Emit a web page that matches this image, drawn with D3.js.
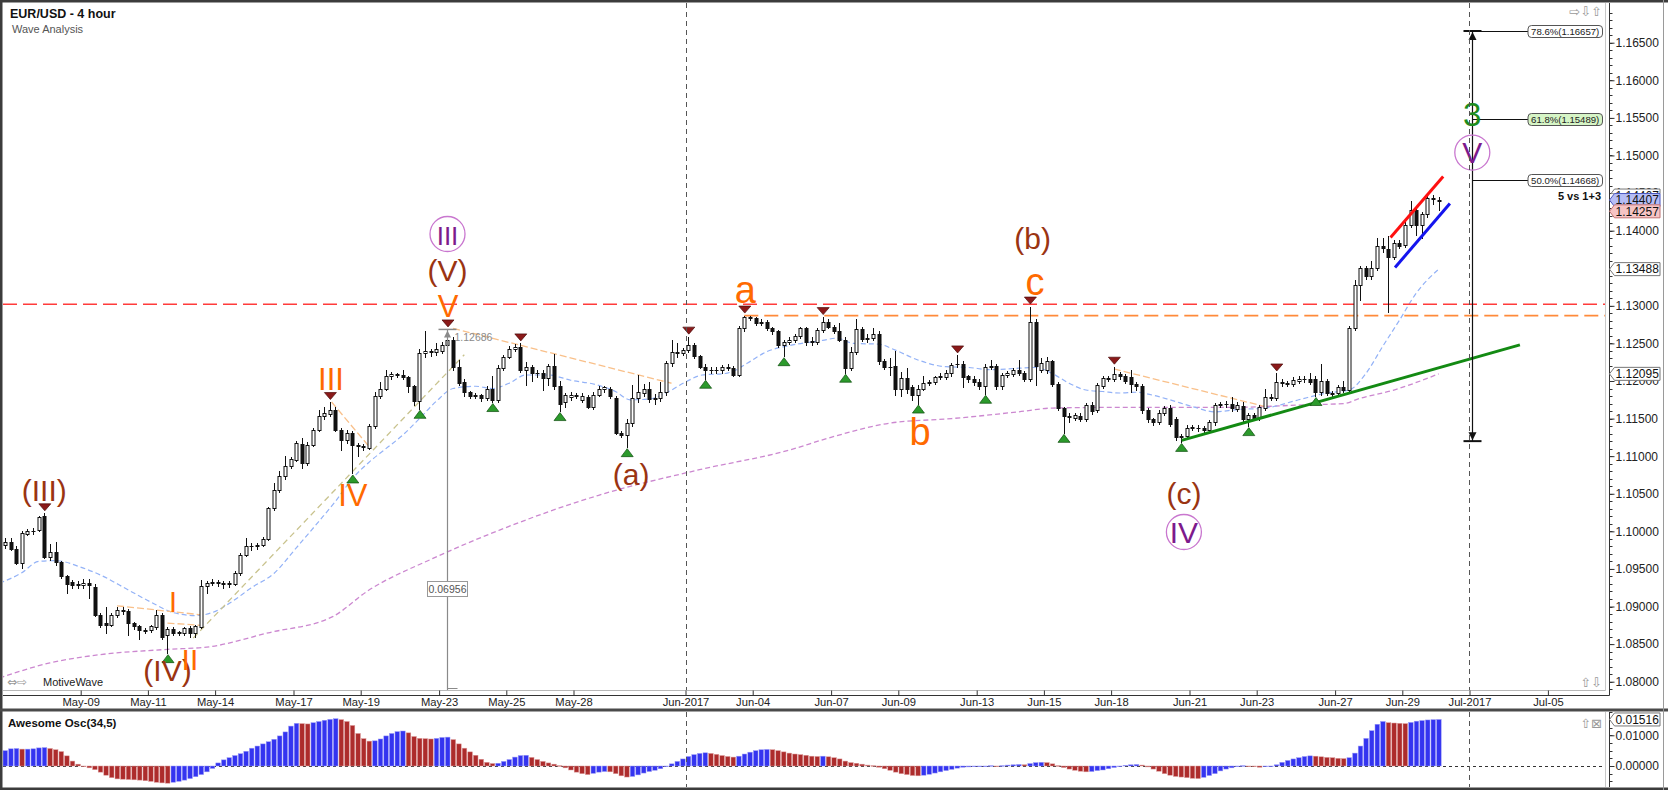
<!DOCTYPE html>
<html><head><meta charset="utf-8">
<script src="https://cdn.jsdelivr.net/npm/d3@7/dist/d3.min.js"></script>
<style>
html,body{margin:0;padding:0;background:#fff;}
svg{display:block;font-family:"Liberation Sans",Arial,sans-serif;}
</style></head><body>
<svg id="chart" width="1668" height="790"></svg>
<script>
// ---------------- DATA ----------------
const title = "EUR/USD - 4 hour";
const subtitle = "Wave Analysis";
// 4-hour candles [open, high, low, close], bar index 0..256
const ohlc = [
[1.0982,1.0991,1.0978,1.0986],[1.0986,1.0991,1.0975,1.0976],[1.0977,1.0980,1.0956,1.0958],[1.0958,1.1000,1.0951,1.0998],[1.0997,1.1003,1.0995,1.1000],
[1.1000,1.1005,1.0997,1.1001],[1.1002,1.1021,1.1000,1.1019],[1.1020,1.1024,1.0964,1.0966],[1.0966,1.0983,1.0962,1.0972],[1.0972,1.0986,1.0955,1.0959],
[1.0959,1.0961,1.0938,1.0940],[1.0940,1.0942,1.0918,1.0930],[1.0932,1.0935,1.0925,1.0929],[1.0930,1.0934,1.0925,1.0929],[1.0929,1.0936,1.0924,1.0931],
[1.0931,1.0936,1.0912,1.0928],[1.0926,1.0930,1.0887,1.0889],[1.0889,1.0892,1.0873,1.0876],[1.0878,1.0900,1.0865,1.0876],[1.0876,1.0892,1.0874,1.0889],
[1.0889,1.0900,1.0886,1.0896],[1.0896,1.0899,1.0890,1.0894],[1.0894,1.0897,1.0862,1.0878],[1.0878,1.0880,1.0870,1.0874],[1.0874,1.0876,1.0857,1.0869],
[1.0869,1.0872,1.0865,1.0868],[1.0869,1.0876,1.0866,1.0874],[1.0873,1.0895,1.0870,1.0889],[1.0889,1.0891,1.0857,1.0859],[1.0862,1.0873,1.0838,1.0870],
[1.0870,1.0873,1.0862,1.0865],[1.0866,1.0868,1.0862,1.0865],[1.0865,1.0873,1.0862,1.0871],[1.0871,1.0874,1.0860,1.0865],[1.0865,1.0876,1.0860,1.0874],
[1.0873,1.0935,1.0871,1.0927],[1.0927,1.0934,1.0918,1.0931],[1.0931,1.0936,1.0929,1.0933],[1.0933,1.0935,1.0927,1.0931],[1.0931,1.0934,1.0925,1.0930],
[1.0930,1.0934,1.0926,1.0931],[1.0930,1.0947,1.0928,1.0944],[1.0944,1.0971,1.0942,1.0969],[1.0969,1.0991,1.0967,1.0981],[1.0981,1.0984,1.0975,1.0980],
[1.0980,1.0985,1.0977,1.0982],[1.0982,1.0992,1.0980,1.0990],[1.0990,1.1033,1.0988,1.1031],[1.1031,1.1064,1.1029,1.1055],[1.1055,1.1080,1.1052,1.1073],
[1.1073,1.1100,1.1070,1.1087],[1.1087,1.1099,1.1084,1.1096],[1.1095,1.1120,1.1093,1.1117],[1.1116,1.1124,1.1084,1.1091],[1.1091,1.1119,1.1088,1.1115],
[1.1115,1.1137,1.1113,1.1135],[1.1135,1.1161,1.1133,1.1154],[1.1153,1.1165,1.1150,1.1157],[1.1156,1.1172,1.1153,1.1162],[1.1162,1.1166,1.1133,1.1135],
[1.1135,1.1138,1.1108,1.1122],[1.1122,1.1135,1.1118,1.1131],[1.1131,1.1133,1.1077,1.1115],[1.1115,1.1118,1.1100,1.1114],[1.1113,1.1116,1.1108,1.1112],
[1.1111,1.1143,1.1109,1.1140],[1.1140,1.1185,1.1138,1.1180],[1.1180,1.1199,1.1178,1.1190],[1.1190,1.1215,1.1188,1.1206],[1.1206,1.1212,1.1203,1.1209],
[1.1209,1.1211,1.1205,1.1208],[1.1208,1.1215,1.1202,1.1205],[1.1205,1.1207,1.1186,1.1193],[1.1193,1.1195,1.1168,1.1173],[1.1173,1.1242,1.1163,1.1237],
[1.1237,1.1266,1.1232,1.1240],[1.1240,1.1243,1.1233,1.1238],[1.1238,1.1250,1.1234,1.1243],[1.1240,1.1252,1.1237,1.1248],[1.1248,1.12686,1.1245,1.1255],
[1.1255,1.1258,1.1215,1.1219],[1.1219,1.1228,1.1195,1.1197],[1.1199,1.1202,1.1180,1.1185],[1.1185,1.1187,1.1178,1.1180],[1.1181,1.1184,1.1177,1.1180],
[1.1181,1.1183,1.1174,1.1177],[1.1177,1.1193,1.1175,1.1190],[1.1190,1.1206,1.1172,1.1175],[1.1175,1.1221,1.1172,1.1217],[1.1217,1.1235,1.1214,1.1232],
[1.1232,1.1247,1.1230,1.1243],[1.1243,1.1249,1.1240,1.1245],[1.1245,1.1250,1.1212,1.1215],[1.1215,1.1225,1.1195,1.1218],[1.1218,1.1221,1.1200,1.1211],
[1.1211,1.1214,1.1205,1.1210],[1.1211,1.1215,1.1188,1.1204],[1.1204,1.1223,1.1195,1.1220],[1.1220,1.1236,1.1190,1.1193],[1.1193,1.1200,1.1160,1.1170],
[1.1172,1.1184,1.1165,1.1181],[1.1179,1.1185,1.1175,1.1182],[1.1180,1.1184,1.1177,1.1181],[1.1175,1.1184,1.1172,1.1180],[1.1179,1.1182,1.1164,1.1166],
[1.1166,1.1185,1.1163,1.1182],[1.1182,1.1193,1.1180,1.1189],[1.1189,1.1194,1.1186,1.1192],[1.1189,1.1192,1.1178,1.1180],[1.1178,1.1180,1.1129,1.1131],
[1.1131,1.1133,1.1125,1.1128],[1.1128,1.1150,1.1112,1.1144],[1.1144,1.1195,1.1140,1.1177],[1.1177,1.1208,1.1172,1.1185],[1.1184,1.1196,1.1180,1.1190],
[1.1190,1.1199,1.1172,1.1176],[1.1176,1.1183,1.1170,1.1177],[1.1177,1.1199,1.1174,1.1186],[1.1186,1.1227,1.1182,1.1224],[1.1224,1.1254,1.1220,1.1239],
[1.1238,1.1251,1.1232,1.1237],[1.1237,1.1244,1.1234,1.1241],[1.1241,1.1259,1.1238,1.1248],[1.1248,1.1250,1.1230,1.1233],[1.1233,1.1235,1.1217,1.1219],
[1.1219,1.1222,1.1203,1.1214],[1.1214,1.1218,1.1210,1.1215],[1.1215,1.1218,1.1211,1.1214],[1.1214,1.1221,1.1211,1.1218],[1.1218,1.1222,1.1214,1.1217],
[1.1217,1.1220,1.1206,1.1208],[1.1208,1.1273,1.1206,1.1270],[1.1270,1.1287,1.1266,1.1285],[1.1285,1.1287,1.1281,1.1284],[1.1284,1.1285,1.1274,1.1277],
[1.1277,1.1282,1.1275,1.1279],[1.1279,1.1281,1.1268,1.1270],[1.1270,1.1272,1.1262,1.1266],[1.1266,1.1268,1.1245,1.1248],[1.1248,1.1255,1.1233,1.1252],
[1.1252,1.1258,1.1249,1.1255],[1.1255,1.1262,1.1252,1.1260],[1.1260,1.1272,1.1257,1.1270],[1.1270,1.1272,1.1248,1.1252],[1.1252,1.1258,1.1248,1.1253],
[1.1252,1.1270,1.1249,1.1268],[1.1268,1.1285,1.1265,1.1279],[1.1279,1.1283,1.1270,1.1272],[1.1272,1.1274,1.1264,1.1266],[1.1266,1.1277,1.1253,1.1255],
[1.1255,1.1258,1.1211,1.1217],[1.1217,1.1245,1.1214,1.1239],[1.1239,1.1283,1.1236,1.1269],[1.1269,1.1272,1.1253,1.1256],[1.1256,1.1262,1.1252,1.1257],
[1.1257,1.1270,1.1254,1.1262],[1.1262,1.1266,1.1222,1.1226],[1.1226,1.1229,1.1216,1.1219],[1.1219,1.1230,1.1208,1.1218],[1.1220,1.1240,1.1182,1.1190],
[1.1190,1.1212,1.1180,1.1204],[1.1204,1.1217,1.1184,1.1190],[1.1192,1.1195,1.1175,1.1181],[1.1181,1.1195,1.1170,1.1190],[1.1190,1.1206,1.1188,1.1197],
[1.1197,1.1201,1.1195,1.1198],[1.1198,1.1207,1.1196,1.1205],[1.1205,1.1210,1.1202,1.1206],[1.1205,1.1214,1.1203,1.1210],[1.1210,1.1224,1.1207,1.1221],
[1.1222,1.1234,1.1218,1.1223],[1.1223,1.1226,1.1192,1.1205],[1.1206,1.1208,1.1198,1.1203],[1.1203,1.1206,1.1195,1.1199],[1.1199,1.1202,1.1190,1.1193],
[1.1193,1.1222,1.1183,1.1219],[1.1219,1.1228,1.1216,1.1220],[1.1220,1.1223,1.1190,1.1194],[1.1194,1.1210,1.1190,1.1208],[1.1208,1.1213,1.1205,1.1210],
[1.1209,1.1217,1.1206,1.1214],[1.1214,1.1228,1.1208,1.1210],[1.1210,1.1213,1.1200,1.1202],[1.1202,1.1299,1.1200,1.1279],[1.1279,1.1282,1.1195,1.1220],
[1.1215,1.1230,1.1212,1.1224],[1.1214,1.1232,1.1211,1.1226],[1.1226,1.1228,1.1193,1.1196],[1.1196,1.1198,1.1162,1.1164],[1.1164,1.1166,1.1131,1.1153],
[1.1152,1.1158,1.1146,1.1154],[1.1151,1.1158,1.1148,1.1155],[1.1154,1.1157,1.1147,1.1150],[1.1150,1.1171,1.1147,1.1168],[1.1168,1.1172,1.1156,1.1160],
[1.1161,1.1197,1.1159,1.1195],[1.1194,1.1207,1.1191,1.1204],[1.1204,1.1206,1.1200,1.1203],[1.1203,1.1219,1.1200,1.1209],[1.1209,1.1212,1.1203,1.1206],
[1.1206,1.1209,1.1197,1.1200],[1.1205,1.1214,1.1186,1.1196],[1.1196,1.1199,1.1188,1.1193],[1.1193,1.1196,1.1158,1.1162],[1.1162,1.1164,1.1146,1.1149],
[1.1149,1.1151,1.1142,1.1146],[1.1146,1.1161,1.1143,1.1158],[1.1158,1.1167,1.1155,1.1164],[1.1164,1.1168,1.1140,1.1143],[1.1150,1.1152,1.1122,1.1126],
[1.1126,1.1130,1.1119,1.1127],[1.1127,1.1141,1.1124,1.1138],[1.1138,1.1142,1.1135,1.1139],[1.1138,1.1141,1.1134,1.1137],[1.1137,1.1140,1.1132,1.1135],
[1.1135,1.1148,1.1132,1.1145],[1.1145,1.1171,1.1142,1.1168],[1.1168,1.1172,1.1165,1.1169],[1.1169,1.1173,1.1166,1.1170],[1.1170,1.1179,1.1160,1.1164],
[1.1163,1.1172,1.1160,1.1168],[1.1167,1.1172,1.1146,1.1149],[1.1149,1.1158,1.1140,1.1155],[1.1155,1.1158,1.1148,1.1151],[1.1151,1.1168,1.1148,1.1165],
[1.1164,1.1190,1.1162,1.1179],[1.1178,1.1183,1.1175,1.1179],[1.1178,1.1210,1.1175,1.1199],[1.1199,1.1202,1.1194,1.1197],[1.1197,1.1200,1.1193,1.1196],
[1.1196,1.1205,1.1193,1.1201],[1.1200,1.1206,1.1197,1.1203],[1.1203,1.1206,1.1198,1.1202],[1.1203,1.1211,1.1196,1.1199],[1.1203,1.1206,1.1180,1.1185],
[1.1185,1.1223,1.1182,1.1200],[1.1200,1.1203,1.1181,1.1184],[1.1184,1.1187,1.1180,1.1183],[1.1184,1.1195,1.1181,1.1192],[1.1192,1.1200,1.1185,1.1188],
[1.1188,1.1273,1.1186,1.1270],[1.1270,1.1334,1.1268,1.1328],[1.1328,1.1353,1.1308,1.1350],[1.1350,1.1353,1.1336,1.1339],[1.1339,1.1359,1.1336,1.1350],
[1.1350,1.1390,1.1347,1.1380],[1.1380,1.1390,1.1372,1.1377],[1.1376,1.1393,1.1292,1.1365],[1.1365,1.1387,1.1362,1.1384],[1.1384,1.1387,1.1377,1.1380],
[1.1381,1.1411,1.1378,1.1408],[1.1408,1.1440,1.1405,1.1428],[1.1428,1.1432,1.1394,1.1408],[1.1408,1.1425,1.1390,1.1422],[1.1422,1.1450,1.1418,1.1443],
[1.1443,1.1448,1.1436,1.1442],[1.1439,1.1445,1.1428,1.14407]
];
// Awesome Oscillator (34,5), in thousandths of a price unit
const aoMilli = [
5.0,5.6,5.7,5.5,5.5,5.6,5.9,6.0,5.7,5.3, 4.7,3.3,1.6,0.6,-0.1,-0.6,-1.2,-2.0,-3.0,-3.8,
-4.2,-4.3,-4.4,-4.5,-4.6,-4.8,-5.0,-5.3,-5.5,-5.6, -5.3,-5.0,-4.6,-4.1,-3.5,-2.8,-1.9,-0.8,1.0,2.0,
2.7,3.4,4.0,4.8,5.8,6.5,7.2,7.9,8.7,9.8, 11.1,13.0,13.9,13.8,13.7,14.1,14.5,14.9,15.2,15.4,
15.1,14.5,13.2,10.6,8.9,8.1,8.2,8.8,9.8,10.6, 11.2,11.4,10.8,9.6,9.0,8.9,8.8,9.0,9.3,9.4,
8.6,7.2,5.8,4.6,3.5,2.2,1.2,0.8,0.9,1.5, 2.1,2.9,3.4,3.5,2.8,2.1,1.5,1.0,0.6,0.1,
-0.6,-1.3,-2.0,-2.5,-2.8,-2.4,-2.0,-1.8,-1.9,-2.5, -3.2,-3.6,-3.4,-2.9,-2.3,-1.8,-1.4,-0.9,-0.2,0.7,
1.5,2.3,3.1,3.7,4.1,4.3,4.1,3.8,3.4,3.1, 2.9,3.2,3.9,4.5,5.0,5.3,5.4,5.3,5.0,4.6,
4.2,3.9,3.7,3.5,3.2,3.1,3.2,3.0,2.7,2.3, 1.6,1.1,0.9,0.6,0.3,0.1,-0.4,-0.9,-1.4,-2.0,
-2.5,-2.8,-3.1,-3.2,-3.0,-2.7,-2.3,-1.9,-1.5,-1.1, -0.7,-0.4,-0.3,-0.2,-0.2,-0.1,0.1,0.0,0.1,0.3,
0.4,0.5,0.4,0.8,1.1,1.2,1.1,0.7,0.1,-0.5, -1.0,-1.4,-1.7,-1.9,-1.8,-1.5,-1.3,-0.9,-0.5,-0.1,
0.2,0.4,0.5,0.3,-0.3,-1.0,-1.7,-2.5,-3.0,-3.4, -3.6,-3.8,-4.0,-4.1,-3.7,-3.1,-2.5,-1.6,-1.0,-0.6,
-0.2,0.1,0.0,-0.1,-0.4,-0.2,0.0,0.4,1.2,1.8, 2.3,2.7,3.1,3.3,3.2,3.0,2.8,2.7,2.5,2.4,
2.7,4.2,6.5,9.0,11.5,13.6,14.5,14.1,14.0,13.9, 13.8,14.2,14.6,14.8,15.0,15.1,15.16
];
// moving averages: [bar index, price]
const fastMA = [[-1,1.0931],[3,1.0945],[6,1.0960],[9,1.0961],[14,1.0951],[17,1.0942],[22,1.0922],[26,1.0906],[30,1.0892],[34,1.0888],[37,1.0892],[40,1.0904],[44,1.0925],[48,1.0944],[52,1.0978],[56,1.1013],[59,1.1040],[62,1.1070],[65,1.1092],[68,1.1110],[71,1.1128],[74,1.1150],[77,1.1173],[80,1.1190],[84,1.1193],[87,1.1190],[90,1.1197],[93,1.1208],[97,1.1208],[101,1.1201],[105.6,1.1195],[109,1.1186],[111.6,1.1175],[115,1.1176],[118.5,1.1186],[121.6,1.1199],[124.5,1.1208],[128.6,1.1210],[130,1.1213],[132.6,1.1224],[136,1.1239],[140,1.1247],[146,1.1254],[148.5,1.1257],[151.5,1.1250],[156,1.1249],[159,1.1241],[163,1.1228],[168,1.1219],[172,1.1218],[176,1.1215],[181,1.1217],[184,1.1218],[187,1.1210],[190,1.1197],[193,1.1188],[196,1.1186],[199,1.1184],[202,1.1185],[205,1.1181],[208,1.1175],[212,1.1166],[216,1.1159],[220,1.1162],[225,1.1164],[231,1.1175],[236,1.1184],[240,1.1188],[243,1.1210],[246,1.1246],[249,1.1281],[252,1.1317],[256,1.13488]];
const slowMA = [[-1,1.0805],[8,1.0825],[17,1.0836],[29,1.0843],[36,1.0846],[47,1.0865],[58.6,1.0887],[64.6,1.0920],[76.4,1.0964],[88.4,1.1002],[106,1.1048],[124,1.1082],[140,1.1108],[147,1.1124],[158,1.1144],[169,1.1150],[181,1.1159],[187,1.1164],[199,1.1165],[220,1.1165],[231,1.1168],[239,1.1170],[242,1.1177],[248,1.1188],[256,1.12095]];
// x axis: tick label and the bar index where that session starts
const tickLabels = ["May-09","May-11","May-14","May-17","May-19","May-23","May-25","May-28","Jun-2017","Jun-04","Jun-07","Jun-09","Jun-13","Jun-15","Jun-18","Jun-21","Jun-23","Jun-27","Jun-29","Jul-2017","Jul-05"];
const tickIndex  = [14,26,38,52,64,78,90,102,122,134,148,160,174,186,198,212,224,238,250,262,276];
const monthStarts = [122,262];
const priceTicks = [1.165,1.16,1.155,1.15,1.145,1.14,1.135,1.13,1.125,1.12,1.115,1.11,1.105,1.10,1.095,1.09,1.085,1.08];
const aoTicks = [0.01,0];
// horizontal levels
const redLevel = 1.1302, orangeLevel = 1.1287, orangeFrom = 132;
// trend lines [[i1,p1],[i2,p2]]
const greenTrend = [[210.1,1.1121],[270.5,1.1248]];
const redChannel = [[247.4,1.1391],[256.8,1.1472]];
const blueChannel = [[248.2,1.1351],[258.0,1.1436]];
const olivePath = [[33.6,1.0858],[82,1.1235]];
const peachLines = [[[80,1.1270],[119,1.1197]],[[58.3,1.1172],[65.2,1.1111]],[[20,1.0901],[35,1.0889]],[[29,1.0878],[35,1.0875]],[[198,1.1216],[225,1.1166]]];
// swing markers (bar index)
const highMarks = [7,58,79,92,122,132,146,170,183,198,227];
const lowMarks  = [29,62,74,87,99,111,125,139,150,163,175,189,210,222,234];
// wave labels [text, bar index, baseline price, colour, size]
const BROWN="#9a3412", ORANGE="#ff6a00";
const waveLabels = [
 ["(III)",7,1.10403,BROWN,30],["(IV)",29,1.08009,BROWN,30],["(V)",79,1.1333,BROWN,30],
 ["(a)",111.8,1.10617,BROWN,30],["(b)",183.5,1.13756,BROWN,30],["(c)",210.5,1.10364,BROWN,30],
 ["III",58.2,1.1188,ORANGE,31],["IV",62.1,1.10337,ORANGE,31],["I",30,1.08927,ORANGE,29],["II",33,1.08156,ORANGE,30],
 ["V",79.1,1.12851,ORANGE,31],["a",132.2,1.13037,ORANGE,38],["b",163.4,1.11148,ORANGE,38],["c",183.9,1.13145,ORANGE,38]
];
const circledLabels = [["III",79,1.13955],["IV",210.5,1.09991],["V",262,1.15039]];
const greenWave = ["3",262,1.15392];
// fibonacci projection
const fibIndex = 262, fibTop = 1.16657, fibBottom = 1.1120;
const fibLevels = [["78.6%",1.16657,"#ffffff"],["61.8%",1.15489,"#d6f5c6"],["50.0%",1.14668,"#ffffff"]];
const fibNote = "5 vs 1+3";
// measured move from wave V
const measureIndex = 79, measureTop = 1.12686, measureText = "0.06956", measureTextPrice = 1.09233;
// price tags on axis
const priceTags = [[1.14467,"#ffffff","#777"],[1.14407,"#b6bdf5","#4a57c0"],[1.14257,"#f6c4c4","#c07070"],[1.13488,"#ffffff","#777"],[1.12095,"#ffffff","#777"]];
const aoTag = 0.01516;

// ---------------- LAYOUT ----------------
const svg = d3.select("#chart");
const PL=3, PR=1605.5, PT=3, PB=690.5, OT=712, OB=787, AX=1609.5;
const x = d3.scaleLinear().domain([0,256]).range([5.1, 5.1+5.6*256]);
const yBase = d3.scaleLinear().domain([1.08,1.165]).range([681.7,42.7]);
const y = d3.scaleLinear().domain([yBase.invert(PB), yBase.invert(PT)]).range([PB,PT]);
const yoBase = d3.scaleLinear().domain([0,0.01]).range([766,735.3]);
const yo = d3.scaleLinear().domain([yoBase.invert(OB), yoBase.invert(OT)]).range([OB,OT]);
const ao = aoMilli.map(v=>v/1000);
const FONT = '"Liberation Sans",Arial,sans-serif';

const defs = svg.append("defs");
defs.append("clipPath").attr("id","cp").append("rect").attr("x",PL).attr("y",PT).attr("width",PR-PL).attr("height",PB-PT);
defs.append("clipPath").attr("id","co").append("rect").attr("x",PL).attr("y",OT).attr("width",PR-PL).attr("height",OB-OT);

svg.append("rect").attr("width",1668).attr("height",790).attr("fill","#fff");

const gP = svg.append("g").attr("clip-path","url(#cp)");
const gO = svg.append("g").attr("clip-path","url(#co)");

// month separators
monthStarts.forEach(k=>{
  const xx = Math.round(x(k-0.5))+0.5;
  [[PT,PB],[OT,OB]].forEach(([a,b])=>svg.append("line").attr("x1",xx).attr("x2",xx).attr("y1",a).attr("y2",b)
    .attr("stroke","#555").attr("stroke-dasharray","5,4").attr("stroke-width",1));
});

// moving averages
const maLine = d3.line().x(d=>x(d[0])).y(d=>y(d[1])).curve(d3.curveMonotoneX);
gP.append("path").attr("d",maLine(slowMA)).attr("fill","none").attr("stroke","#cc88d0").attr("stroke-width",1.3).attr("stroke-dasharray","5,3");
gP.append("path").attr("d",maLine(fastMA)).attr("fill","none").attr("stroke","#93b2f7").attr("stroke-width",1.2).attr("stroke-dasharray","5,3");

// helper lines
const seg = (pts)=>`M${x(pts[0][0])},${y(pts[0][1])}L${x(pts[1][0])},${y(pts[1][1])}`;
peachLines.forEach(p=>gP.append("path").attr("d",seg(p)).attr("stroke","#f9c08a").attr("stroke-width",1.3).attr("stroke-dasharray","7,3").attr("fill","none"));
gP.append("path").attr("d",seg(olivePath)).attr("stroke","#c9c38e").attr("stroke-width",1.3).attr("stroke-dasharray","6,4").attr("fill","none");

// horizontal dashed levels
gP.append("line").attr("x1",PL).attr("x2",PR).attr("y1",y(redLevel)).attr("y2",y(redLevel))
  .attr("stroke","#ff3b3b").attr("stroke-width",1.6).attr("stroke-dasharray","14,6");
gP.append("line").attr("x1",x(orangeFrom)).attr("x2",PR).attr("y1",y(orangeLevel)).attr("y2",y(orangeLevel))
  .attr("stroke","#ff8a3a").attr("stroke-width",1.6).attr("stroke-dasharray","14,6");

// candles
const cg = gP.append("g");
ohlc.forEach((d,i)=>{
  const [o,h,l,c]=d; const r=Math.round(x(i));
  cg.append("line").attr("x1",r+0.5).attr("x2",r+0.5).attr("y1",Math.round(y(h))).attr("y2",Math.round(y(l))+1)
    .attr("stroke","#111").attr("stroke-width",1);
  const yt=Math.round(y(Math.max(o,c)))+0.5, yb=Math.round(y(Math.min(o,c)))+0.5;
  cg.append("rect").attr("x",r-1).attr("width",3).attr("y",yt).attr("height",Math.max(0.001,yb-yt))
    .attr("fill", c>=o ? "#fff" : "#111").attr("stroke","#111").attr("stroke-width",1);
});

// trend lines
gP.append("path").attr("d",seg(greenTrend)).attr("stroke","#138a13").attr("stroke-width",3).attr("fill","none");
gP.append("path").attr("d",seg(redChannel)).attr("stroke","#ff1010").attr("stroke-width",3).attr("fill","none");
gP.append("path").attr("d",seg(blueChannel)).attr("stroke","#1414ee").attr("stroke-width",3).attr("fill","none");

// swing markers
highMarks.forEach(i=>{
  const cx=x(i)+0.5, t=y(ohlc[i][1])-2.5;
  gP.append("path").attr("d",`M${cx-6},${t-7}L${cx+6},${t-7}L${cx},${t}Z`).attr("fill","#8b1a1a").attr("stroke","#4a0a0a").attr("stroke-width",0.7);
});
lowMarks.forEach(i=>{
  const cx=x(i)+0.5, t=y(ohlc[i][2])+1.5;
  gP.append("path").attr("d",`M${cx-6},${t+8}L${cx+6},${t+8}L${cx},${t}Z`).attr("fill","#2c9a2c").attr("stroke","#0d4d0d").attr("stroke-width",0.7);
});

// measured move
{
  const mx=Math.round(x(measureIndex))+0.5, mt=y(measureTop);
  gP.append("line").attr("x1",mx).attr("x2",mx).attr("y1",mt).attr("y2",PB).attr("stroke","#8a8a8a").attr("stroke-width",1.2);
  gP.append("line").attr("x1",mx-9).attr("x2",mx+9).attr("y1",mt).attr("y2",mt).attr("stroke","#8a8a8a").attr("stroke-width",1.5);
  gP.append("path").attr("d",`M${mx-3.5},${mt+8}L${mx+3.5},${mt+8}L${mx},${mt+1}Z`).attr("fill","#8a8a8a");
  gP.append("line").attr("x1",mx).attr("x2",mx+10).attr("y1",PB-2).attr("y2",PB-2).attr("stroke","#8a8a8a").attr("stroke-width",1.2);
  gP.append("text").attr("x",mx+7).attr("y",mt+12).attr("font-size",10.5).attr("fill","#8a8a8a").attr("font-family",FONT).text(measureTop.toFixed(5));
  const ty=y(measureTextPrice);
  gP.append("rect").attr("x",mx-20).attr("y",ty-7.5).attr("width",40).attr("height",15).attr("fill","#fff").attr("stroke","#999");
  gP.append("text").attr("x",mx).attr("y",ty+3.8).attr("text-anchor","middle").attr("font-size",10.5).attr("fill","#555").attr("font-family",FONT).text(measureText);
}

// fibonacci projection
{
  const fx=Math.round(x(fibIndex))+0.5, ft=y(fibTop), fb=y(fibBottom);
  gP.append("line").attr("x1",fx).attr("x2",fx).attr("y1",ft).attr("y2",fb).attr("stroke","#111").attr("stroke-width",1.2);
  gP.append("line").attr("x1",fx-9).attr("x2",fx+9).attr("y1",ft).attr("y2",ft).attr("stroke","#111").attr("stroke-width",2);
  gP.append("line").attr("x1",fx-9).attr("x2",fx+9).attr("y1",fb).attr("y2",fb).attr("stroke","#111").attr("stroke-width",2);
  gP.append("path").attr("d",`M${fx-4},${ft+9}L${fx+4},${ft+9}L${fx},${ft+1}Z`).attr("fill","#111");
  gP.append("path").attr("d",`M${fx-4},${fb-9}L${fx+4},${fb-9}L${fx},${fb-1}Z`).attr("fill","#111");
  fibLevels.forEach(([lab,p,fill])=>{
    const ly=Math.round(y(p))+0.5;
    gP.append("line").attr("x1",fx).attr("x2",1528).attr("y1",ly).attr("y2",ly).attr("stroke","#111").attr("stroke-width",1);
    gP.append("rect").attr("x",1528).attr("y",ly-6).attr("width",74.5).attr("height",12).attr("rx",3.5)
      .attr("fill",fill).attr("stroke","#555").attr("stroke-width",1);
    gP.append("text").attr("x",1565.2).attr("y",ly+3.6).attr("text-anchor","middle").attr("font-size",9.6)
      .attr("fill","#222").attr("font-family",FONT).text(`${lab}(${p.toFixed(5)})`);
  });
  gP.append("text").attr("x",1601).attr("y",y(1.14401)).attr("text-anchor","end").attr("font-size",11)
    .attr("font-weight","bold").attr("fill","#111").attr("font-family",FONT).text(fibNote);
}

// wave labels
waveLabels.forEach(([t,i,p,col,fs])=>{
  gP.append("text").attr("x",x(i)).attr("y",y(p)).attr("text-anchor","middle").attr("font-size",fs)
    .attr("fill",col).attr("font-family",FONT).text(t);
});
circledLabels.forEach(([t,i,p])=>{
  const cx=x(i), cy=y(p);
  gP.append("circle").attr("cx",cx).attr("cy",cy).attr("r",17.5).attr("fill","none").attr("stroke","#c977cf").attr("stroke-width",1.3);
  gP.append("text").attr("x",cx).attr("y",cy+10.8).attr("text-anchor","middle").attr("font-size",t.length>2?26:30)
    .attr("fill","#7d1a8c").attr("font-family",FONT).text(t);
});
gP.append("text").attr("x",x(greenWave[1])).attr("y",y(greenWave[2])).attr("text-anchor","middle").attr("font-size",33)
  .attr("fill","#1d8c1d").attr("font-family",FONT).text(greenWave[0]);

// ---------- Oscillator ----------
gO.append("line").attr("x1",PL).attr("x2",PR).attr("y1",Math.round(yo(0))+0.5).attr("y2",Math.round(yo(0))+0.5)
  .attr("stroke","#333").attr("stroke-dasharray","3,3");
gO.selectAll("rect.ao").data(ao).join("rect").attr("class","ao")
  .attr("x",(d,i)=>x(i)-2.1).attr("width",4.6)
  .attr("y",d=>Math.min(yo(d),yo(0))).attr("height",d=>Math.max(0.6,Math.abs(yo(d)-yo(0))))
  .attr("fill",(d,i)=> (i===0||d>=ao[i-1]) ? "#3434f0" : "#ad2c2c")
  .attr("stroke",(d,i)=> (i===0||d>=ao[i-1]) ? "#9b9bf8" : "#dc9a9a").attr("stroke-width",0.5);

// ---------- frame ----------
svg.append("rect").attr("x",0).attr("y",0).attr("width",1668).attr("height",2.5).attr("fill","#3c3c3c");
svg.append("rect").attr("x",0).attr("y",0).attr("width",2.5).attr("height",790).attr("fill","#3c3c3c");
svg.append("rect").attr("x",0).attr("y",708.5).attr("width",1668).attr("height",3).attr("fill","#4a4a4a");
svg.append("rect").attr("x",0).attr("y",787.5).attr("width",1668).attr("height",2.5).attr("fill","#3c3c3c");
svg.append("line").attr("x1",1663.5).attr("x2",1663.5).attr("y1",0).attr("y2",790).attr("stroke","#9a9a9a");
svg.append("line").attr("x1",PR).attr("x2",PR).attr("y1",PT).attr("y2",PB).attr("stroke","#c8c8c8");
svg.append("line").attr("x1",PR).attr("x2",PR).attr("y1",OT).attr("y2",OB).attr("stroke","#c8c8c8");
svg.append("line").attr("x1",PL).attr("x2",PR).attr("y1",PB).attr("y2",PB).attr("stroke","#b8b8b8");

// ---------- axes ----------
const styleAxis = g=>{ g.attr("font-family",FONT).attr("font-size",12); g.selectAll("text").attr("fill","#222"); g.selectAll("line,path").attr("stroke","#333"); };
const xAxis = d3.axisBottom(x).tickValues(tickIndex.map(k=>k-0.5)).tickFormat((d,i)=>tickLabels[i]).tickSize(5).tickSizeOuter(0).tickPadding(3);
const gx = svg.append("g").attr("transform",`translate(0,${PB})`).call(xAxis).call(styleAxis);
gx.select(".domain").remove();
gx.attr("font-size",11.2);
svg.append("line").attr("x1",PL).attr("x2",AX).attr("y1",PB+5).attr("y2",PB+5).attr("stroke","#333");

const yAxis = d3.axisRight(y).tickValues(priceTicks).tickFormat(d3.format(".5f")).tickSize(5).tickSizeOuter(0).tickPadding(1);
const gy = svg.append("g").attr("transform",`translate(${AX},0)`).call(yAxis).call(styleAxis);
gy.select(".domain").remove();
svg.append("line").attr("x1",AX).attr("x2",AX).attr("y1",PT).attr("y2",PB+5).attr("stroke","#333");
svg.append("g").selectAll("line").data(d3.range(1079,1170).map(v=>v/1000)).join("line")
  .attr("x1",AX).attr("x2",AX+3).attr("y1",d=>Math.round(y(d))+0.5).attr("y2",d=>Math.round(y(d))+0.5).attr("stroke","#333");

const oAxis = d3.axisRight(yo).tickValues(aoTicks).tickFormat(d3.format(".5f")).tickSize(5).tickSizeOuter(0).tickPadding(1);
const go = svg.append("g").attr("transform",`translate(${AX},0)`).call(oAxis).call(styleAxis);
go.select(".domain").remove();
svg.append("line").attr("x1",AX).attr("x2",AX).attr("y1",OT).attr("y2",OB).attr("stroke","#333");
svg.append("g").selectAll("line").data(d3.range(-8,20).map(v=>v*0.0025)).join("line")
  .attr("x1",AX).attr("x2",AX+3).attr("y1",d=>Math.round(yo(d))+0.5).attr("y2",d=>Math.round(yo(d))+0.5)
  .attr("stroke","#333").style("display",d=>(yo(d)<OT||yo(d)>OB)?"none":null);

// tags on axes (a tag partly hidden by the next one is clipped to its visible strip)
function tag(yy, txt, fill, stroke, clipTop){
  const g=svg.append("g");
  if(clipTop!==undefined){
    const id="tagclip"+Math.round(yy);
    defs.append("clipPath").attr("id",id).append("rect").attr("x",AX-1).attr("y",yy-8).attr("width",60).attr("height",clipTop-(yy-8));
    g.attr("clip-path",`url(#${id})`);
  }
  g.append("path").attr("d",`M${AX},${yy}L${AX+5},${yy-6.5}L1660,${yy-6.5}L1660,${yy+6.5}L${AX+5},${yy+6.5}Z`)
   .attr("fill",fill).attr("stroke",stroke).attr("stroke-width",1);
  g.append("text").attr("x",AX+6).attr("y",yy+4.3).attr("font-size",12).attr("fill","#111").attr("font-family",FONT).text(txt);
}
priceTags.forEach(([p,f,s],k)=>{
  const next = priceTags[k+1];
  const hidden = next && Math.abs(y(next[0])-y(p))<8;
  tag(y(p),p.toFixed(5),f,s, hidden ? y(next[0])-6.5 : undefined);
});
tag(yo(aoTag), aoTag.toFixed(5), "#fff", "#777");

// ---------- text ----------
svg.append("text").attr("x",10).attr("y",18).attr("font-size",12.5).attr("font-weight","bold").attr("fill","#111").attr("font-family",FONT).text(title);
svg.append("text").attr("x",12).attr("y",33).attr("font-size",11).attr("fill","#555").attr("font-family",FONT).text(subtitle);
svg.append("text").attr("x",8).attr("y",727).attr("font-size",11.5).attr("font-weight","bold").attr("fill","#111").attr("font-family",FONT).text("Awesome Osc(34,5)");
svg.append("text").attr("x",7).attr("y",686).attr("font-size",12).attr("fill","#999").attr("font-family","DejaVu Sans").text("⇔⇨");
svg.append("text").attr("x",43).attr("y",686).attr("font-size",11).attr("fill","#222").attr("font-family",FONT).text("MotiveWave");
svg.append("text").attr("x",1602).attr("y",16).attr("text-anchor","end").attr("font-size",13).attr("fill","#999").attr("font-family","DejaVu Sans").text("⇨⇩⇧");
svg.append("text").attr("x",1602).attr("y",687).attr("text-anchor","end").attr("font-size",13).attr("fill","#999").attr("font-family","DejaVu Sans").text("⇧⇩");
svg.append("text").attr("x",1602).attr("y",728).attr("text-anchor","end").attr("font-size",13).attr("fill","#999").attr("font-family","DejaVu Sans").text("⇧⊠");
</script></body></html>
